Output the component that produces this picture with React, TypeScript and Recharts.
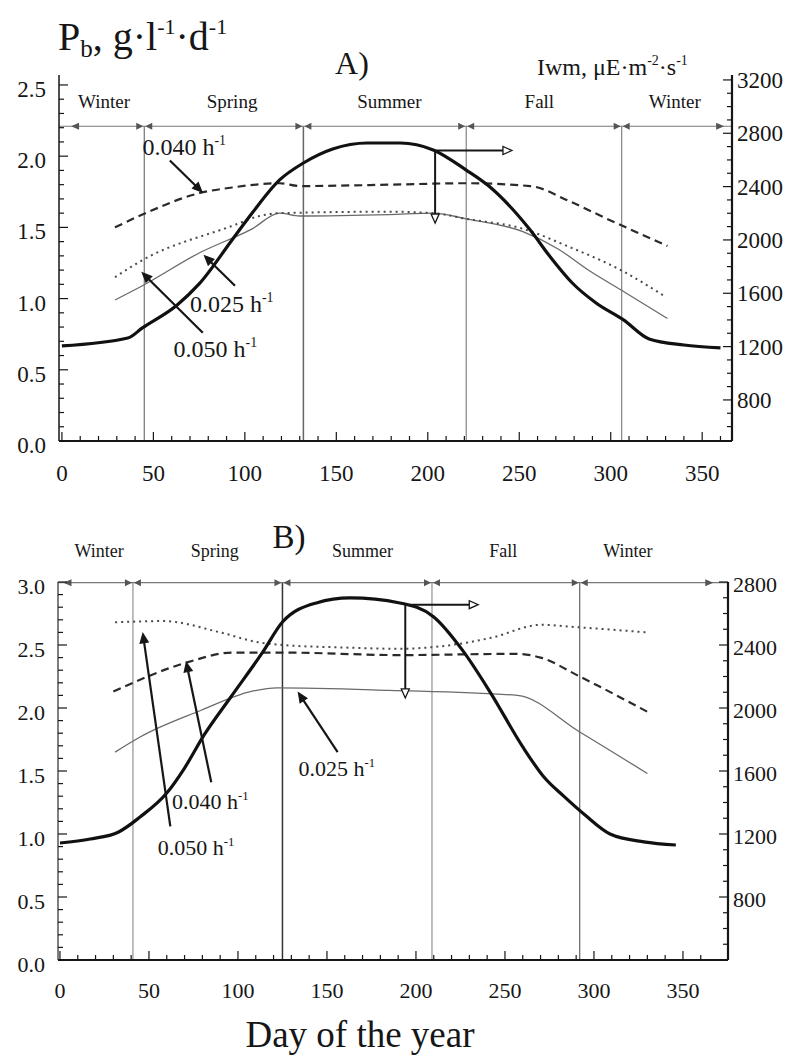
import React from "react";
import { LineChart, Line, XAxis, YAxis, ReferenceLine, ReferenceDot } from "recharts";

const FONT = "'Liberation Serif', 'Times New Roman', serif";
const INK = "#161616";

// ---------- panel A ----------
const A_IRR_DAYS = [0, 36, 44, 63, 75, 93, 104, 119, 132, 148, 167, 185, 203, 221, 234, 256, 267, 279, 292, 307, 321, 340, 360];
const A_IRR = [1205, 1264, 1340, 1512, 1670, 2000, 2202, 2450, 2577, 2682, 2727, 2727, 2675, 2524, 2397, 2074, 1872, 1677, 1527, 1400, 1257, 1212, 1190];
const A_D040_DAYS = [29, 44, 75, 93, 119, 130, 179, 221, 256, 278, 298, 331];
const A_D040 = [1.5, 1.59, 1.74, 1.78, 1.81, 1.79, 1.8, 1.81, 1.79, 1.68, 1.56, 1.37];
const A_D050_DAYS = [29, 44, 93, 108, 119, 179, 203, 221, 252, 276, 307, 329];
const A_D050 = [1.15, 1.27, 1.51, 1.58, 1.6, 1.61, 1.6, 1.56, 1.49, 1.37, 1.19, 1.02];
const A_D025_DAYS = [29, 44, 75, 104, 119, 130, 179, 203, 221, 252, 271, 289, 307, 331];
const A_D025 = [0.99, 1.09, 1.32, 1.49, 1.6, 1.58, 1.59, 1.6, 1.56, 1.47, 1.35, 1.19, 1.05, 0.86];
const A_BOUNDS = [45, 132, 221, 306];
const A_SEASON_MID = [23, 93, 179, 261, 335];

// ---------- panel B ----------
const B_IRR_DAYS = [0, 17, 33, 45, 60, 70, 81, 96, 114, 125, 144, 163, 191, 210, 226, 242, 260, 272, 283, 295, 309, 328, 346];
const B_IRR = [1143, 1168, 1213, 1308, 1460, 1619, 1829, 2070, 2356, 2546, 2667, 2699, 2667, 2578, 2369, 2095, 1753, 1560, 1440, 1320, 1200, 1150, 1130];
const B_D050_DAYS = [31, 58, 90, 112, 125, 160, 190, 229, 243, 270, 292, 330];
const B_D050 = [2.68, 2.69, 2.6, 2.52, 2.5, 2.48, 2.47, 2.52, 2.56, 2.66, 2.64, 2.6];
const B_D040_DAYS = [30, 71, 97, 125, 191, 257, 270, 292, 330];
const B_D040 = [2.13, 2.36, 2.44, 2.44, 2.42, 2.43, 2.4, 2.25, 1.97];
const B_D025_DAYS = [31, 45, 79, 107, 122, 185, 257, 292, 330];
const B_D025 = [1.65, 1.77, 1.98, 2.13, 2.16, 2.14, 2.1, 1.81, 1.48];
const B_BOUNDS = [41, 125, 209, 292];
const B_SEASON_MID = [22, 87, 170, 249, 319];

const SEASONS = ["Winter", "Spring", "Summer", "Fall", "Winter"];

const X_TICKS = Array.from({ length: 37 }, (_, i) => i * 10);
const A_LEFT_TICKS = Array.from({ length: 26 }, (_, i) => i / 10);
const A_RIGHT_TICKS = Array.from({ length: 27 }, (_, i) => 600 + i * 100);
const B_LEFT_TICKS = Array.from({ length: 31 }, (_, i) => i / 10);
const B_RIGHT_TICKS = Array.from({ length: 24 }, (_, i) => 500 + i * 100);

type Pt = { day: number; v: number };
const zip = (days: number[], vals: number[]): Pt[] => days.map((day, i) => ({ day, v: vals[i] }));

type Side = "left" | "right" | "bottom";

const axisTick =
  (side: Side, isMajor: (v: number) => boolean, fmt: (v: number) => string, fontSize: number, dy: number) =>
  (props: any) => {
    const { x, y, payload } = props;
    const v = payload.value as number;
    const major = isMajor(v);
    const len = major ? 9 : 5;
    const txt = fmt(v);
    const common = { fontFamily: FONT, fontSize, fill: INK };
    if (side === "left") {
      return (
        <g>
          <line x1={x} y1={y} x2={x + len} y2={y} stroke={INK} strokeWidth={1.2} />
          {major && txt && (
            <text x={x - 13} y={y + dy} textAnchor="end" {...common}>
              {txt}
            </text>
          )}
        </g>
      );
    }
    if (side === "right") {
      return (
        <g>
          <line x1={x - len} y1={y} x2={x} y2={y} stroke={INK} strokeWidth={1.2} />
          {major && txt && (
            <text x={x + 5} y={y + dy} textAnchor="start" {...common}>
              {txt}
            </text>
          )}
        </g>
      );
    }
    return (
      <g>
        <line x1={x} y1={y} x2={x} y2={y - len} stroke={INK} strokeWidth={1.2} />
        {major && txt && (
          <text x={x} y={y + dy} textAnchor="middle" {...common}>
            {txt}
          </text>
        )}
      </g>
    );
  };

const halfStep = (v: number) => Math.abs(v * 2 - Math.round(v * 2)) < 1e-6;

// straight arrow drawn between two data points
const arrow = (head: "solid" | "open", width = 2.2) => (p: any) => {
  const { x1, y1, x2, y2 } = p;
  const ang = Math.atan2(y2 - y1, x2 - x1);
  const L = 9;
  const W = 4;
  const bx = x2 - L * Math.cos(ang);
  const by = y2 - L * Math.sin(ang);
  const px = -Math.sin(ang) * W;
  const py = Math.cos(ang) * W;
  return (
    <g>
      <line x1={x1} y1={y1} x2={bx} y2={by} stroke={INK} strokeWidth={width} />
      <polygon
        points={`${x2},${y2} ${bx + px},${by + py} ${bx - px},${by - py}`}
        fill={head === "solid" ? INK : "#fff"}
        stroke={INK}
        strokeWidth={1.3}
      />
    </g>
  );
};

const plainLine = (color: string, width: number) => (p: any) =>
  <line x1={p.x1} y1={p.y1} x2={p.x2} y2={p.y2} stroke={color} strokeWidth={width} />;

// season row arrowheads: ▶|◀ at each boundary
const boundaryHeads = (p: any) => {
  const { cx, cy } = p;
  return (
    <g fill="#555">
      <path d={`M${cx - 1},${cy} L${cx - 8},${cy - 3.5} L${cx - 8},${cy + 3.5} Z`} />
      <path d={`M${cx + 1},${cy} L${cx + 8},${cy - 3.5} L${cx + 8},${cy + 3.5} Z`} />
    </g>
  );
};
const headLeft = (p: any) => (
  <path d={`M${p.cx},${p.cy} L${p.cx + 8},${p.cy - 3.5} L${p.cx + 8},${p.cy + 3.5} Z`} fill="#555" />
);
const headRight = (p: any) => (
  <path d={`M${p.cx},${p.cy} L${p.cx - 8},${p.cy - 3.5} L${p.cx - 8},${p.cy + 3.5} Z`} fill="#555" />
);

const label = (text: string, sup: string, size: number, anchor: "start" | "middle" = "start") => (p: any) => (
  <text x={p.cx} y={p.cy} fontFamily={FONT} fontSize={size} fill={INK} textAnchor={anchor}>
    {text}
    {sup && (
      <tspan dy={-size * 0.42} fontSize={size * 0.58}>
        {sup}
      </tspan>
    )}
  </text>
);

type Note = { text: string; at: [number, number]; tail: [number, number]; tip: [number, number] };

const A_NOTES: Note[] = [
  { text: "0.040 h", at: [44, 2.01], tail: [59, 1.97], tip: [76.5, 1.75] },
  { text: "0.025 h", at: [70, 0.905], tail: [94.6, 1.09], tip: [78, 1.3] },
  { text: "0.050 h", at: [61, 0.59], tail: [77, 0.76], tip: [44, 1.18] },
];
const B_NOTES: Note[] = [
  { text: "0.050 h", at: [55, 0.83], tail: [62, 1.06], tip: [46.6, 2.59] },
  { text: "0.040 h", at: [63, 1.2], tail: [85, 1.41], tip: [71, 2.36] },
  { text: "0.025 h", at: [134, 1.46], tail: [156, 1.65], tip: [134, 2.12] },
];

type PanelProps = {
  height: number;
  top: number;
  xAxisHeight: number;
  leftWidth: number;
  rightWidth: number;
  xDomain: [number, number];
  leftDomain: [number, number];
  rightDomain: [number, number];
  leftTicks: number[];
  rightTicks: number[];
  irr: Pt[];
  d040: Pt[];
  d050: Pt[];
  d025: Pt[];
  bounds: number[];
  boundColors: string[];
  rowY: number;
  rowEnds: [number, number];
  seasonMid: number[];
  seasonY: number;
  seasonSize: number;
  notes: Note[];
  noteSize: number;
  dbl: { x: number; y: number; down: number; right: number };
  tickSize: number;
  leftDy: number;
  rightDy: number;
  xDy: number;
  xAxisWidth: number;
  leftAxisColor: string;
};

function Panel(p: PanelProps) {
  return (
    <LineChart
      width={790}
      height={p.height}
      margin={{ top: p.top, right: 0, bottom: 0, left: 0 }}
    >
      <XAxis
        type="number"
        dataKey="day"
        domain={p.xDomain}
        allowDataOverflow
        ticks={X_TICKS}
        interval={0}
        height={p.xAxisHeight}
        tickSize={0}
        tickMargin={0}
        tickLine={false}
        axisLine={{ stroke: INK, strokeWidth: p.xAxisWidth }}
        tick={axisTick("bottom", (v) => v % 50 === 0, (v) => (v <= 350 ? String(v) : ""), p.tickSize, p.xDy)}
      />
      <YAxis
        yAxisId="left"
        type="number"
        domain={p.leftDomain}
        allowDataOverflow
        ticks={p.leftTicks}
        interval={0}
        width={p.leftWidth}
        tickSize={0}
        tickMargin={0}
        tickLine={false}
        axisLine={{ stroke: p.leftAxisColor, strokeWidth: 1.5 }}
        tick={axisTick("left", halfStep, (v) => v.toFixed(1), p.tickSize, p.leftDy)}
      />
      <YAxis
        yAxisId="right"
        orientation="right"
        type="number"
        domain={p.rightDomain}
        allowDataOverflow
        ticks={p.rightTicks}
        interval={0}
        width={p.rightWidth}
        tickSize={0}
        tickMargin={0}
        tickLine={false}
        axisLine={{ stroke: INK, strokeWidth: 2.2 }}
        tick={axisTick("right", (v) => v % 400 === 0, (v) => String(v), p.tickSize, p.rightDy)}
      />

      {/* season boundaries */}
      {p.bounds.map((b, i) => (
        <ReferenceLine
          key={"b" + i}
          yAxisId="left"
          segment={[{ x: b, y: 0 }, { x: b, y: p.rowY }]}
          shape={plainLine(p.boundColors[i], i === 1 ? 1.5 : 1.1)}
        />
      ))}
      <ReferenceLine
        yAxisId="left"
        segment={[{ x: p.xDomain[0], y: p.rowY }, { x: p.xDomain[1], y: p.rowY }]}
        shape={plainLine("#777", 1.2)}
      />
      {p.bounds.map((b, i) => (
        <ReferenceDot key={"h" + i} yAxisId="left" x={b} y={p.rowY} r={0} ifOverflow="visible" shape={boundaryHeads} />
      ))}
      <ReferenceDot yAxisId="left" x={p.rowEnds[0]} y={p.rowY} r={0} ifOverflow="visible" shape={headLeft} />
      <ReferenceDot yAxisId="left" x={p.rowEnds[1]} y={p.rowY} r={0} ifOverflow="visible" shape={headRight} />
      {SEASONS.map((s, i) => (
        <ReferenceDot
          key={"s" + i}
          yAxisId="left"
          x={p.seasonMid[i]}
          y={p.seasonY}
          r={0}
          ifOverflow="visible"
          shape={label(s, "", p.seasonSize, "middle")}
        />
      ))}

      <Line data={p.d025} dataKey="v" yAxisId="left" type="monotone" stroke="#6a6a6a" strokeWidth={1.3} dot={false} activeDot={false} isAnimationActive={false} />
      <Line data={p.d050} dataKey="v" yAxisId="left" type="monotone" stroke="#4a4a4a" strokeWidth={2} strokeDasharray="2 4" dot={false} activeDot={false} isAnimationActive={false} />
      <Line data={p.d040} dataKey="v" yAxisId="left" type="monotone" stroke="#2a2a2a" strokeWidth={2.2} strokeDasharray="8 5" dot={false} activeDot={false} isAnimationActive={false} />
      <Line data={p.irr} dataKey="v" yAxisId="right" type="monotone" stroke="#111" strokeWidth={3.2} dot={false} activeDot={false} isAnimationActive={false} />

      {/* rate labels with pointer arrows */}
      {p.notes.map((n, i) => (
        <ReferenceLine
          key={"na" + i}
          yAxisId="left"
          segment={[{ x: n.tail[0], y: n.tail[1] }, { x: n.tip[0], y: n.tip[1] }]}
          shape={arrow("solid")}
        />
      ))}
      {p.notes.map((n, i) => (
        <ReferenceDot
          key={"nt" + i}
          yAxisId="left"
          x={n.at[0]}
          y={n.at[1]}
          r={0}
          ifOverflow="visible"
          shape={label(n.text, "-1", p.noteSize)}
        />
      ))}

      {/* which-axis arrows */}
      <ReferenceLine
        yAxisId="left"
        segment={[{ x: p.dbl.x, y: p.dbl.y }, { x: p.dbl.x, y: p.dbl.down }]}
        shape={arrow("open", 2)}
      />
      <ReferenceLine
        yAxisId="left"
        segment={[{ x: p.dbl.x, y: p.dbl.y }, { x: p.dbl.right, y: p.dbl.y }]}
        shape={arrow("open", 2)}
      />
    </LineChart>
  );
}

export default function App() {
  return (
    <div style={{ position: "absolute", left: 0, top: 0, width: 790, height: 1059, background: "#fff" }}>
      <div style={{ position: "absolute", left: 0, top: 0 }}>
        <Panel
          height={500}
          top={75}
          xAxisHeight={59}
          leftWidth={59}
          rightWidth={58}
          xDomain={[-1.6, 366.3]}
          leftDomain={[0, 2.57]}
          rightDomain={[492, 3237]}
          leftTicks={A_LEFT_TICKS}
          rightTicks={A_RIGHT_TICKS}
          irr={zip(A_IRR_DAYS, A_IRR)}
          d040={zip(A_D040_DAYS, A_D040)}
          d050={zip(A_D050_DAYS, A_D050)}
          d025={zip(A_D025_DAYS, A_D025)}
          bounds={A_BOUNDS}
          boundColors={["#666", "#666", "#777", "#777"]}
          rowY={2.21}
          rowEnds={[5, 362]}
          seasonMid={A_SEASON_MID}
          seasonY={2.34}
          seasonSize={19}
          notes={A_NOTES}
          noteSize={24}
          dbl={{ x: 204, y: 2.04, down: 1.53, right: 246 }}
          tickSize={23}
          leftDy={12}
          rightDy={8}
          xDy={40}
          xAxisWidth={2.2}
          leftAxisColor={INK}
        />
      </div>
      <div style={{ position: "absolute", left: 0, top: 500 }}>
        <Panel
          height={525}
          top={82}
          xAxisHeight={65}
          leftWidth={58}
          rightWidth={62}
          xDomain={[-1.1, 375.3]}
          leftDomain={[0, 3.0]}
          rightDomain={[400, 2800]}
          leftTicks={B_LEFT_TICKS}
          rightTicks={B_RIGHT_TICKS}
          irr={zip(B_IRR_DAYS, B_IRR)}
          d040={zip(B_D040_DAYS, B_D040)}
          d050={zip(B_D050_DAYS, B_D050)}
          d025={zip(B_D025_DAYS, B_D025)}
          bounds={B_BOUNDS}
          boundColors={["#888", "#333", "#888", "#555"]}
          rowY={2.995}
          rowEnds={[2, 367]}
          seasonMid={B_SEASON_MID}
          seasonY={3.2}
          seasonSize={18}
          notes={B_NOTES}
          noteSize={22}
          dbl={{ x: 194, y: 2.82, down: 2.08, right: 235 }}
          tickSize={22}
          leftDy={12}
          rightDy={10}
          xDy={38}
          xAxisWidth={2}
          leftAxisColor="#555"
        />
      </div>
      <svg
        width={790}
        height={1059}
        style={{ position: "absolute", left: 0, top: 0, pointerEvents: "none" }}
        fontFamily={FONT}
        fill={INK}
      >
        <text x={58} y={50} fontSize={40}>
          P
          <tspan fontSize={25} dy={7}>b</tspan>
          <tspan fontSize={40} dy={-7}>, g·l</tspan>
          <tspan fontSize={22} dy={-16}>-1</tspan>
          <tspan fontSize={40} dy={16}>·d</tspan>
          <tspan fontSize={22} dy={-16}>-1</tspan>
        </text>
        <text x={352} y={74} fontSize={32} textAnchor="middle">A)</text>
        <text x={537} y={75} fontSize={24}>
          Iwm, μE·m
          <tspan fontSize={14} dy={-10}>-2</tspan>
          <tspan fontSize={24} dy={10}>·s</tspan>
          <tspan fontSize={14} dy={-10}>-1</tspan>
        </text>
        <text x={289} y={548} fontSize={33} textAnchor="middle">B)</text>
        <text x={360} y={1047} fontSize={37} textAnchor="middle">Day of the year</text>
      </svg>
    </div>
  );
}
